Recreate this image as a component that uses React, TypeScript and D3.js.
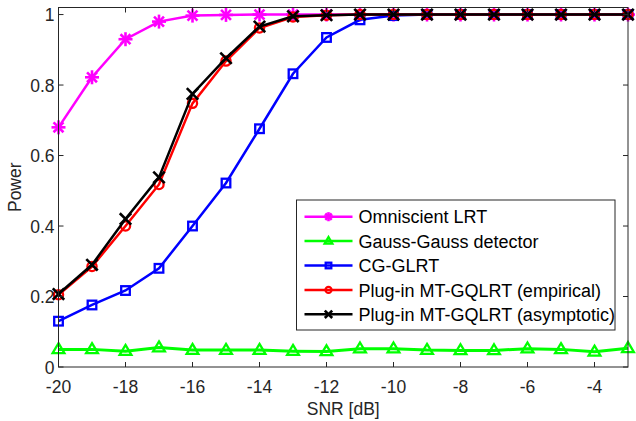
import React from "react";
import * as d3 from "d3";

const snr = [-20, -19, -18, -17, -16, -15, -14, -13, -12, -11, -10, -9, -8, -7, -6, -5, -4, -3];
const omniscient = [0.68, 0.822, 0.93, 0.98, 0.997, 0.999, 1, 1, 1, 1, 1, 1, 1, 1, 1, 1, 1, 1];
const gaussGauss = [0.05, 0.05, 0.045, 0.055, 0.048, 0.048, 0.048, 0.045, 0.044, 0.052, 0.052, 0.048, 0.047, 0.047, 0.052, 0.05, 0.043, 0.053];
const cgGlrt = [0.13, 0.176, 0.217, 0.28, 0.4, 0.522, 0.676, 0.832, 0.935, 0.985, 0.997, 1, 1, 1, 1, 1, 1, 1];
const empirical = [0.205, 0.285, 0.4, 0.518, 0.748, 0.868, 0.962, 0.993, 0.998, 1, 1, 1, 1, 1, 1, 1, 1, 1];
const asymptotic = [0.207, 0.29, 0.42, 0.538, 0.775, 0.876, 0.966, 0.995, 0.998, 1, 1, 1, 1, 1, 1, 1, 1, 1];
const xTicks = [-20, -18, -16, -14, -12, -10, -8, -6, -4];
const yTicks = [0, 0.2, 0.4, 0.6, 0.8, 1];
const labels = [
  "Omniscient LRT",
  "Gauss-Gauss detector",
  "CG-GLRT",
  "Plug-in MT-GQLRT (empirical)",
  "Plug-in MT-GQLRT (asymptotic)",
];

const W = 636, H = 421;
const M = { left: 58.5, right: 628, top: 7.5, bottom: 367 };
const font = "Liberation Sans, Arial, Helvetica, sans-serif";

type Kind = "star" | "tri" | "sq" | "circ" | "x";

function Marker({ kind, x, y, color, s = 1 }: { kind: Kind; x: number; y: number; color: string; s?: number }) {
  const sw = 2.3;
  if (kind === "star") {
    const r = 7 * s;
    const lines = [0, 45, 90, 135].map((a) => {
      const rad = (a * Math.PI) / 180;
      return (
        <line key={a} x1={x - r * Math.cos(rad)} y1={y - r * Math.sin(rad)} x2={x + r * Math.cos(rad)} y2={y + r * Math.sin(rad)} stroke={color} strokeWidth={2.6} />
      );
    });
    return <g>{lines}</g>;
  }
  if (kind === "tri") {
    const r = 6.2 * s;
    return <path d={`M${x},${y - r} L${x + r * 0.95},${y + r * 0.6} L${x - r * 0.95},${y + r * 0.6} Z`} fill="none" stroke={color} strokeWidth={sw} />;
  }
  if (kind === "sq") {
    const q = 4.3 * s;
    return <rect x={x - q} y={y - q} width={2 * q} height={2 * q} fill="none" stroke={color} strokeWidth={sw} />;
  }
  if (kind === "circ") {
    return <circle cx={x} cy={y} r={4.6 * s} fill="none" stroke={color} strokeWidth={sw} />;
  }
  const r = 5.7 * s;
  return (
    <g>
      <line x1={x - r} y1={y - r} x2={x + r} y2={y + r} stroke={color} strokeWidth={2.6} />
      <line x1={x - r} y1={y + r} x2={x + r} y2={y - r} stroke={color} strokeWidth={2.6} />
    </g>
  );
}

export default function App() {
  const x = d3.scaleLinear().domain([-20, -3]).range([M.left, M.right]);
  const y = d3.scaleLinear().domain([0, 1.02]).range([M.bottom, M.top]);
  const line = d3.line<number>().x((_, i) => x(snr[i])).y((d) => y(d));

  const series: { data: number[]; color: string; kind: Kind }[] = [
    { data: omniscient, color: "#ff00ff", kind: "star" },
    { data: gaussGauss, color: "#00ff00", kind: "tri" },
    { data: cgGlrt, color: "#0000ff", kind: "sq" },
    { data: empirical, color: "#ff0000", kind: "circ" },
    { data: asymptotic, color: "#000000", kind: "x" },
  ];

  const lg = { x: 296.5, y: 200, w: 318.5, h: 130 };
  const rowH = 24.4;

  return (
    <svg width={W} height={H} style={{ position: "absolute", left: 0, top: 0, fontFamily: font }}>
      <rect x={0} y={0} width={W} height={H} fill="#fff" />
      <g>
        {series.map((s, si) => (
          <g key={si}>
            <path d={line(s.data) || ""} fill="none" stroke={s.color} strokeWidth={si === 1 ? 3 : 2.5} />
            {s.data.map((v, i) => (
              <Marker key={i} kind={s.kind} x={x(snr[i])} y={y(v)} color={s.color} />
            ))}
          </g>
        ))}
      </g>
      <rect x={M.left} y={M.top} width={M.right - M.left} height={M.bottom - M.top} fill="none" stroke="#262626" strokeWidth={1} />
      {xTicks.map((t) => (
        <g key={t}>
          <line x1={x(t)} x2={x(t)} y1={M.bottom} y2={M.bottom - 5} stroke="#262626" />
          <line x1={x(t)} x2={x(t)} y1={M.top} y2={M.top + 5} stroke="#262626" />
          <text x={x(t)} y={M.bottom + 26} textAnchor="middle" fontSize={17.5} fill="#262626">{t}</text>
        </g>
      ))}
      {yTicks.map((t) => (
        <g key={t}>
          <line x1={M.left} x2={M.left + 5} y1={y(t)} y2={y(t)} stroke="#262626" />
          <line x1={M.right} x2={M.right - 5} y1={y(t)} y2={y(t)} stroke="#262626" />
          <text x={M.left - 4} y={y(t) + 6.5} textAnchor="end" fontSize={17.5} fill="#262626">{String(t)}</text>
        </g>
      ))}
      <text x={(M.left + M.right) / 2} y={415} textAnchor="middle" fontSize={17.5} fill="#262626">SNR [dB]</text>
      <text transform={`translate(21,${(M.top + M.bottom) / 2}) rotate(-90)`} textAnchor="middle" fontSize={17.5} fill="#262626">Power</text>
      <rect x={lg.x} y={lg.y} width={lg.w} height={lg.h} fill="#fff" stroke="#262626" strokeWidth={1} />
      {series.map((s, i) => {
        const cy = lg.y + 16.7 + i * rowH;
        return (
          <g key={i}>
            <line x1={lg.x + 8} x2={lg.x + 56} y1={cy} y2={cy} stroke={s.color} strokeWidth={2.5} />
            <Marker kind={s.kind} x={lg.x + 32} y={cy} color={s.color} s={0.65} />
            <text x={lg.x + 62} y={cy + 6.6} fontSize={18} fill="#000">{labels[i]}</text>
          </g>
        );
      })}
    </svg>
  );
}
